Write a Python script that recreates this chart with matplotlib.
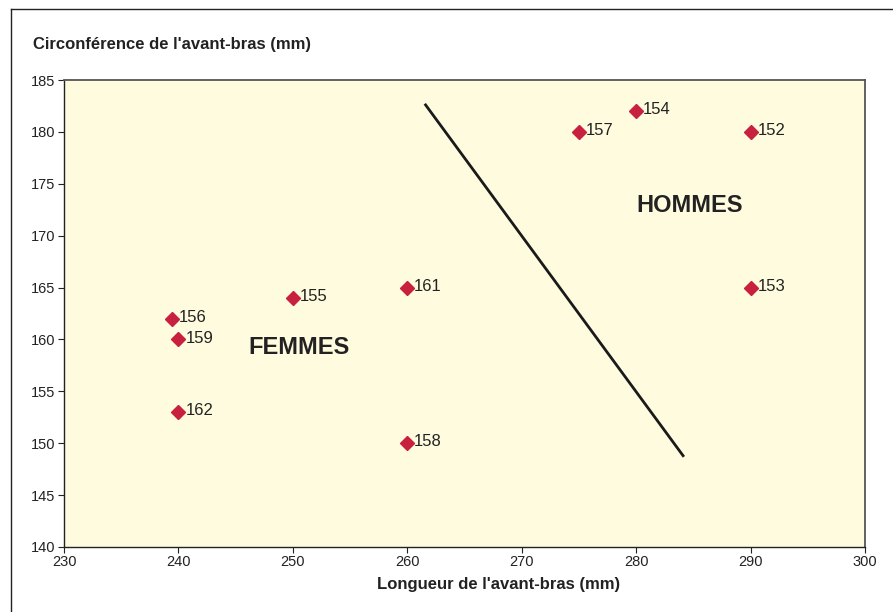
import matplotlib
matplotlib.use("Agg")
import matplotlib.pyplot as plt
from matplotlib.lines import Line2D

plt.rcParams['font.family'] = ['Liberation Sans', 'DejaVu Sans']

# Data
longueur = [239.4, 240, 240, 250, 260, 260, 275, 280, 290, 290]
circonference = [162, 160, 153, 164, 165, 150, 180, 182, 180, 165]
ids = ["156", "159", "162", "155", "161", "158", "157", "154", "152", "153"]
line_x = [261.6, 284.1]
line_y = [182.6, 148.8]
xticks = [230, 240, 250, 260, 270, 280, 290, 300]
yticks = [140, 145, 150, 155, 160, 165, 170, 175, 180, 185]

W, H = 893, 612
fig = plt.figure(figsize=(W / 100, H / 100), dpi=100)
fig.patch.set_facecolor('white')

# outer frame (only top and left edges visible)
fig.lines.append(Line2D([11 / W, 1.0], [1 - 9 / H, 1 - 9 / H], transform=fig.transFigure,
                        color='#222222', linewidth=1.0))
fig.lines.append(Line2D([11 / W, 11 / W], [0.0, 1 - 9 / H], transform=fig.transFigure,
                        color='#222222', linewidth=1.0))

ax = fig.add_axes([64 / W, 1 - 547 / H, (865 - 64) / W, (547 - 80) / H])
ax.set_facecolor('#FFFBDE')
ax.set_xlim(230, 300)
ax.set_ylim(140, 185)
ax.set_xticks(xticks)
ax.set_yticks(yticks)
ax.tick_params(axis='both', direction='out', length=4, width=0.8,
               colors='#222222', pad=2, labelsize=10.5)
for s in ['left', 'bottom']:
    ax.spines[s].set_color('#222222')
    ax.spines[s].set_linewidth(1.0)
for s in ['top', 'right']:
    ax.spines[s].set_color('#555555')
    ax.spines[s].set_linewidth(1.3)

ax.plot(longueur, circonference, linestyle='none', marker='D', markersize=7,
        color='#C8203F', zorder=3)
for x, y, t in zip(longueur, circonference, ids):
    ax.annotate(t, (x, y), xytext=(5, 1), textcoords='offset points',
                ha='left', va='center', fontsize=12, color='#222222')

ax.plot(line_x, line_y, color='#1a1a1a', linewidth=2.0)

ax.text(250.5, 159.2, "FEMMES", fontsize=17, fontweight='bold', color='#222222',
        ha='center', va='center')
ax.text(284.7, 172.9, "HOMMES", fontsize=17, fontweight='bold', color='#222222',
        ha='center', va='center')

fig.text(33 / W, 1 - 44 / H, "Circonférence de l'avant-bras (mm)", fontsize=12,
         fontweight='bold', color='#222222', ha='left', va='center')
fig.text(499 / W, 1 - 585 / H, "Longueur de l'avant-bras (mm)", fontsize=12,
         fontweight='bold', color='#222222', ha='center', va='center')

fig.savefig("out.png", dpi=100)
